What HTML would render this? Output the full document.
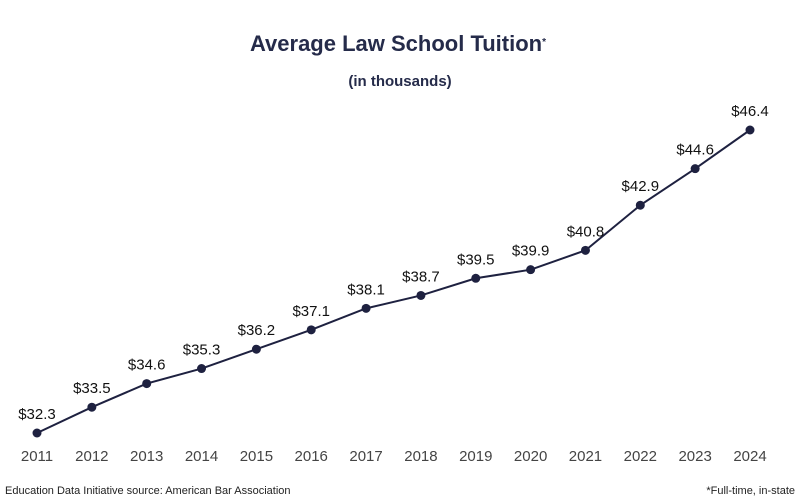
<!DOCTYPE html>
<html><head><meta charset="utf-8"><style>
body{margin:0;background:#fff;font-family:"Liberation Sans",sans-serif;}
svg{display:block}
</style></head><body>
<svg width="800" height="500">
<text x="398" y="51" text-anchor="middle" font-size="22" font-weight="bold" fill="#252b4a">Average Law School Tuition<tspan font-size="10" dy="-6">*</tspan></text>
<text x="400" y="86" text-anchor="middle" font-size="15" font-weight="bold" fill="#252b4a">(in thousands)</text>
<g id="plot"></g>
<text x="5" y="494" font-size="11" fill="#222">Education Data Initiative source: American Bar Association</text>
<text x="795" y="494" text-anchor="end" font-size="11" fill="#222">*Full-time, in-state</text>
</svg>
<script>
const years=["2011","2012","2013","2014","2015","2016","2017","2018","2019","2020","2021","2022","2023","2024"];
const tuition=[32.3,33.5,34.6,35.3,36.2,37.1,38.1,38.7,39.5,39.9,40.8,42.9,44.6,46.4];
const x0=37,x1=750,v0=32.3,v1=46.4,y0=433,y1=130;
const xs=i=>x0+(x1-x0)*i/(years.length-1);
const ys=v=>y0+(y1-y0)*(v-v0)/(v1-v0);
const NS="http://www.w3.org/2000/svg",g=document.getElementById('plot');
function mk(t,a){const e=document.createElementNS(NS,t);for(const k in a)e.setAttribute(k,a[k]);g.appendChild(e);return e;}
const line=mk('polyline',{points:tuition.map((v,i)=>xs(i)+','+ys(v)).join(' '),fill:'none',stroke:'#1e2140','stroke-width':2});


tuition.forEach((v,i)=>{
 const c=mk('circle',{cx:xs(i),cy:ys(v),r:4.5,fill:'#1e2140'});
 
 
 const t=mk('text',{x:xs(i),y:ys(v)-14,'text-anchor':'middle','font-size':15,fill:'#111'});
 t.textContent='$'+v.toFixed(1);
 
 
 const xl=mk('text',{x:xs(i),y:461,'text-anchor':'middle','font-size':15,fill:'#444'});
 xl.textContent=years[i];
 
 
});
</script>
</body></html>
